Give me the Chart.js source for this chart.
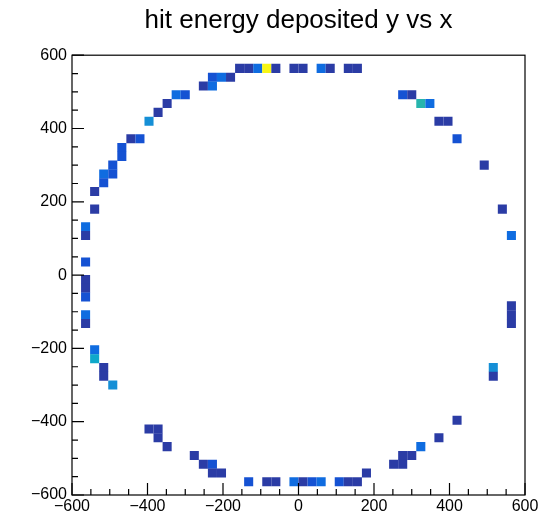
<!DOCTYPE html>
<html>
<head>
<meta charset="utf-8">
<script src="https://cdn.jsdelivr.net/npm/chart.js@4"></script>
<style>
  html, body { margin: 0; padding: 0; background: #fff; }
  #wrap { width: 557px; height: 518px; }
</style>
</head>
<body>
<div id="wrap"><canvas id="hitChart" width="557" height="518"></canvas></div>
<script>
// bin centres (24 mm bins) of the filled cells, row by row from the top
const cellX = [
  -156, -132, -108, -84, -60, -12, 12, 60, 84, 132, 156,
  -228, -204, -180,
  -252, -228,
  -324, -300, 276, 300,
  -348, 324, 348,
  -372,
  -396, 372, 396,
  -444, -420, 420,
  -468,
  -468,
  -492, 492,
  -516, -492,
  -516,
  -540,
  -540, 540,
  -564,
  -564, 564,
  -564,
  -564,
  -564,
  -564,
  564,
  -564, 564,
  -564, 564,
  -540,
  -540,
  -516, 516,
  -516, 516,
  -492,
  420,
  -396, -372,
  -372, 372,
  -348, 324,
  -276, 276, 300,
  -252, -228, 252, 276,
  -228, -204, 180,
  -132, -84, -60, -12, 12, 36, 60, 108, 132, 156
];
const cellY = [
  564, 564, 564, 564, 564, 564, 564, 564, 564, 564, 564,
  540, 540, 540,
  516, 516,
  492, 492, 492, 492,
  468, 468, 468,
  444,
  420, 420, 420,
  372, 372, 372,
  348,
  324,
  300, 300,
  276, 276,
  252,
  228,
  180, 180,
  132,
  108, 108,
  36,
  -12,
  -36,
  -60,
  -84,
  -108, -108,
  -132, -132,
  -204,
  -228,
  -252, -252,
  -276, -276,
  -300,
  -396,
  -420, -420,
  -444, -444,
  -468, -468,
  -492, -492, -492,
  -516, -516, -516, -516,
  -540, -540, -540,
  -564, -564, -564, -564, -564, -564, -564, -564, -564, -564
];
// deposited energy, in palette steps (1 = lowest)
const cellE = [
  1, 1, 3, 7, 1, 1, 1, 3, 1, 1, 1,
  2, 3, 1,
  1, 3,
  3, 2, 2, 1,
  1, 6, 3,
  1,
  4, 1, 1,
  1, 2, 2,
  2,
  2,
  2, 1,
  3, 2,
  2,
  1,
  1, 1,
  3,
  1, 3,
  2,
  1,
  1,
  2,
  1,
  3, 1,
  1, 1,
  3,
  5,
  1, 4,
  1, 1,
  4,
  1,
  1, 1,
  1, 1,
  1, 3,
  1, 1, 1,
  1, 2, 1, 1,
  1, 1, 1,
  2, 1, 1, 3, 1, 2, 3, 2, 1, 1
];
const axisTicks = [-600, -400, -200, 0, 200, 400, 600];
const palette = ['#ffffff', '#2b3ca5', '#1552d3', '#0f6ce0', '#158fd6', '#0fa8ca', '#27b5ad', '#f7f615'];
const binWidth = 24;

Chart.defaults.font.family = "'Liberation Sans', Arial, sans-serif";
Chart.defaults.color = '#000';

// ROOT style frame with inward ticks on the left and bottom axes
const frameTicks = {
  id: 'frameTicks',
  afterDraw(chart) {
    const ctx = chart.ctx;
    const a = chart.chartArea;
    const xs = chart.scales.x, ys = chart.scales.y;
    ctx.save();
    ctx.strokeStyle = '#000';
    ctx.lineWidth = 1.2;
    ctx.strokeRect(a.left, a.top, a.right - a.left, a.bottom - a.top);
    ctx.beginPath();
    for (let v = -600; v <= 600; v += 50) {
      const len = v % 200 === 0 ? 12 : 6;
      const px = xs.getPixelForValue(v);
      ctx.moveTo(px, a.bottom);
      ctx.lineTo(px, a.bottom - len);
      const py = ys.getPixelForValue(v);
      ctx.moveTo(a.left, py);
      ctx.lineTo(a.left + len, py);
    }
    ctx.stroke();
    ctx.restore();
  }
};

const cells = cellX.map((x, i) => ({ x: x, y: cellY[i] }));

function cellRadius(c) {
  const s = c.chart.scales.x;
  return Math.abs(s.getPixelForValue(binWidth) - s.getPixelForValue(0)) / Math.SQRT2;
}

const tickLabel = v => String(v).replace('-', '\u2212');

new Chart(document.getElementById('hitChart'), {
  type: 'scatter',
  data: {
    datasets: [{
      data: cells,
      pointStyle: 'rect',
      backgroundColor: cellE.map(e => palette[e]),
      borderWidth: 0,
      radius: cellRadius,
      hoverRadius: cellRadius
    }]
  },
  options: {
    responsive: false,
    animation: false,
    layout: { padding: { left: 0, right: 32, top: 0, bottom: 0 } },
    plugins: {
      legend: { display: false },
      tooltip: { enabled: false },
      title: {
        display: true,
        fullSize: false,
        text: 'hit energy deposited y vs x',
        color: '#000',
        font: { size: 26, weight: 'normal' },
        padding: { top: 5, bottom: 19 }
      }
    },
    scales: {
      x: {
        type: 'linear',
        min: -600, max: 600,
        afterBuildTicks: s => { s.ticks = axisTicks.map(v => ({ value: v })); },
        afterFit: s => { s.height = 23; },
        grid: { display: false, drawTicks: false },
        border: { display: false },
        ticks: { font: { size: 16 }, padding: 2, maxRotation: 0, callback: tickLabel }
      },
      y: {
        type: 'linear',
        min: -600, max: 600,
        afterBuildTicks: s => { s.ticks = axisTicks.map(v => ({ value: v })); },
        afterFit: s => { s.width = 72; },
        grid: { display: false, drawTicks: false },
        border: { display: false },
        ticks: { font: { size: 16 }, padding: 5, callback: tickLabel }
      }
    }
  },
  plugins: [frameTicks]
});
</script>
</body>
</html>
